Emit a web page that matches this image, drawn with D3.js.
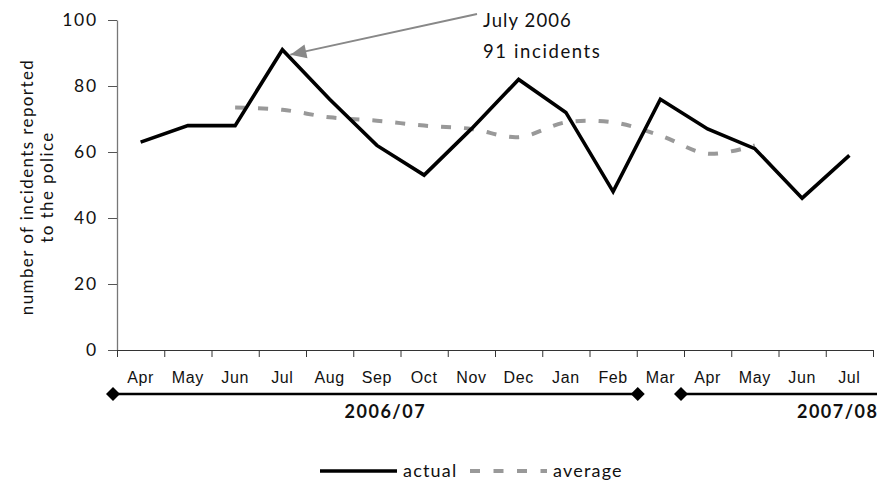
<!DOCTYPE html>
<html><head><meta charset="utf-8">
<script src="https://cdn.jsdelivr.net/npm/d3@7"></script>
<style>
body{margin:0;background:#fff;}
svg{display:block;}
</style></head>
<body>
<svg id="c" width="879" height="484"></svg>
<script>
const months = ["Apr","May","Jun","Jul","Aug","Sep","Oct","Nov","Dec","Jan","Feb","Mar","Apr","May","Jun","Jul"];
const actual = [63,68,68,91,76,62,53,67,82,72,48,76,67,61,46,59];
const average = [null,null,73.5,72.8,70.5,69.5,68,67,64.5,69,69,65,59.5,62,null,null];
const yTicks = [0,20,40,60,80,100];
const yearLabels = ["2006/07","2007/08"];
const seriesNames = ["actual","average"];
const annotation = ["July 2006","91 incidents"];
const yLabel = ["number of incidents reported","to the police"];

const gill = "Lato, 'Open Sans', sans-serif";
const arial = "'Liberation Sans', Arial, sans-serif";
const svg = d3.select("#c");
const idx = d3.range(months.length);
const x = d3.scaleBand().domain(idx).range([117,873]).padding(0);
const xb = d3.scaleLinear().domain([0,months.length]).range([117,873]);
const y = d3.scaleLinear().domain([0,100]).range([350,20]);
const cx = i => x(i) + x.bandwidth()/2;

// y axis
const ya = svg.append("g").attr("transform","translate(117,0)")
  .call(d3.axisLeft(y).tickValues(yTicks).tickSize(9).tickPadding(10).tickSizeOuter(0));
ya.select(".domain").attr("stroke","#777").attr("stroke-width",1.3);
ya.selectAll(".tick line").attr("stroke","#555");
ya.selectAll("text").attr("font-family",gill).attr("font-size",17.5).attr("letter-spacing",1.8).attr("fill","#111");

// x axis boundary ticks
const xa = svg.append("g").attr("transform","translate(0,350)")
  .call(d3.axisBottom(xb).tickValues(d3.range(months.length+1)).tickSize(7).tickFormat("").tickSizeOuter(0));
xa.select(".domain").attr("stroke","#333").attr("stroke-width",1.2);
xa.selectAll(".tick line").attr("stroke","#333");
// month labels
const xl = svg.append("g").attr("transform","translate(0,350)")
  .call(d3.axisBottom(x).tickSize(0).tickPadding(21.5).tickFormat(i=>months[i]));
xl.select(".domain").remove();
xl.selectAll("text").attr("font-family",arial).attr("font-size",16).attr("fill","#111").attr("letter-spacing",0.6);

// y label
const yl = svg.append("text").attr("transform","translate(33,187) rotate(-90)")
  .attr("text-anchor","middle").attr("font-family",gill).attr("font-size",17).attr("letter-spacing",1.4).attr("fill","#111");
yl.append("tspan").attr("x",0).attr("dy",0).text(yLabel[0]);
yl.append("tspan").attr("x",0).attr("dy",20).text(yLabel[1]);

// lines
const lineA = d3.line().x((d,i)=>cx(i)).y(d=>y(d));
const lineAvg = d3.line().defined(d=>d!==null).x((d,i)=>cx(i)).y(d=>y(d)).curve(d3.curveCatmullRom.alpha(0.5));
svg.append("path").datum(average).attr("d",lineAvg).attr("fill","none")
  .attr("stroke","#999").attr("stroke-width",4).attr("stroke-dasharray","10,13");
svg.append("path").datum(actual).attr("d",lineA).attr("fill","none")
  .attr("stroke","#000").attr("stroke-width",3.6).attr("stroke-linejoin","miter");

// annotation
const peak = actual.indexOf(d3.max(actual));
const tipX = cx(peak)+8, tipY = y(actual[peak])+5;
const startX = 477, startY = 14;
svg.append("line").attr("x1",startX).attr("y1",startY).attr("x2",tipX).attr("y2",tipY)
  .attr("stroke","#888").attr("stroke-width",1.8);
const ang = Math.atan2(tipY-startY, tipX-startX);
const L=16, W=7;
const hp = [[tipX,tipY],[tipX-L*Math.cos(ang)+W*Math.sin(ang), tipY-L*Math.sin(ang)-W*Math.cos(ang)],[tipX-L*Math.cos(ang)-W*Math.sin(ang), tipY-L*Math.sin(ang)+W*Math.cos(ang)]];
svg.append("path").attr("d","M"+hp.map(p=>p.join(",")).join("L")+"Z").attr("fill","#888");
svg.append("text").attr("x",483).attr("y",27).attr("font-family",gill).attr("font-size",18.5).attr("letter-spacing",1.1).attr("fill","#111").text(annotation[0]);
svg.append("text").attr("x",483).attr("y",58).attr("font-family",gill).attr("font-size",18.5).attr("letter-spacing",1.6).attr("fill","#111").text(annotation[1]);

// year brackets
const by = 394;
const seg = [[xb(0)-4, xb(11)+1],[xb(12)-3, xb(months.length)+4]];
seg.forEach(s=>svg.append("line").attr("x1",s[0]).attr("x2",s[1]).attr("y1",by).attr("y2",by).attr("stroke","#000").attr("stroke-width",2.6));
const dia = [seg[0][0], seg[0][1], seg[1][0]];
dia.forEach(d=>svg.append("path").attr("d",`M${d-7},${by}L${d},${by-7}L${d+7},${by}L${d},${by+7}Z`).attr("fill","#000"));
svg.append("text").attr("x",(seg[0][0]+seg[0][1])/2+10).attr("y",418).attr("text-anchor","middle")
  .attr("font-family",gill).attr("font-weight","bold").attr("font-size",18).attr("letter-spacing",1.5).attr("fill","#111").text(yearLabels[0]);
svg.append("text").attr("x",seg[1][1]+1.5).attr("y",418).attr("text-anchor","end")
  .attr("font-family",gill).attr("font-weight","bold").attr("font-size",18).attr("letter-spacing",1.5).attr("fill","#111").text(yearLabels[1]);

// legend
const ly = 471;
svg.append("line").attr("x1",320).attr("x2",397).attr("y1",ly).attr("y2",ly).attr("stroke","#000").attr("stroke-width",3.6);
svg.append("text").attr("x",403).attr("y",ly+6).attr("font-family",gill).attr("font-size",18).attr("letter-spacing",1.2).attr("fill","#111").text(seriesNames[0]);
svg.append("line").attr("x1",470).attr("x2",547).attr("y1",ly).attr("y2",ly).attr("stroke","#999").attr("stroke-width",4).attr("stroke-dasharray","10,13.5");
svg.append("text").attr("x",553).attr("y",ly+6).attr("font-family",gill).attr("font-size",18).attr("letter-spacing",1.2).attr("fill","#111").text(seriesNames[1]);
</script>
</body></html>
